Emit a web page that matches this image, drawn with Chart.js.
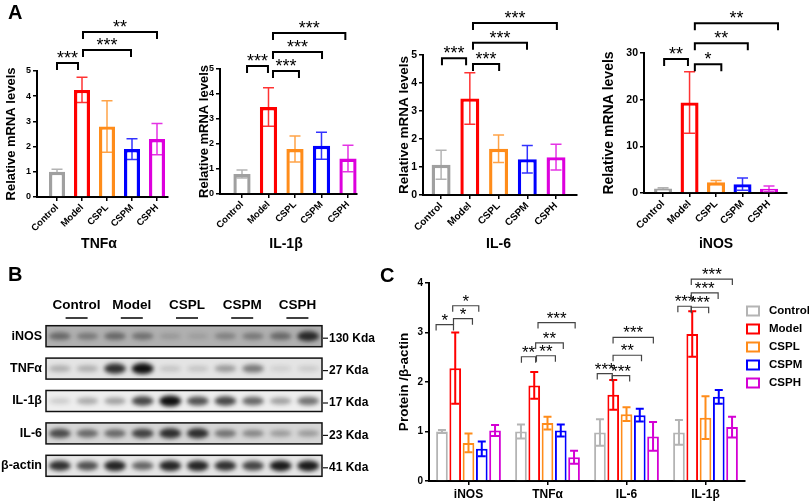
<!DOCTYPE html>
<html>
<head>
<meta charset="utf-8">
<script src="https://cdn.jsdelivr.net/npm/chart.js@4.4.1/dist/chart.umd.min.js"></script>
<style>
  body { margin: 0; background: #fff; width: 809px; height: 502px; position: relative; overflow: hidden;
         font-family: "Liberation Sans", Arial, sans-serif; }
  .box { position: absolute; }
  .panel { position: absolute; font-weight: bold; font-size: 20px; line-height: 20px; }
</style>
</head>
<body>
<div class="box" style="left:0;top:240px;width:400px;height:262px"><canvas id="blot"></canvas></div>
<div class="box" style="left:396px;top:240px;width:413px;height:262px"><canvas id="protein"></canvas></div>
<div class="box" style="left:0;top:0;width:195px;height:252px"><canvas id="tnf"></canvas></div>
<div class="box" style="left:195px;top:0;width:200px;height:252px"><canvas id="il1b"></canvas></div>
<div class="box" style="left:395px;top:0;width:202px;height:252px"><canvas id="il6"></canvas></div>
<div class="box" style="left:597px;top:0;width:212px;height:252px"><canvas id="inos"></canvas></div>
<div class="panel" style="left:8px;top:2px">A</div>
<div class="panel" style="left:8px;top:264px">B</div>
<div class="panel" style="left:380px;top:265px">C</div>
<script>
// ---- data ----
const groups = ['Control', 'Model', 'CSPL', 'CSPM', 'CSPH'];
const colors = ['#a0a0a0', '#ff0000', '#ff8c1a', '#0000ff', '#dd00dd'];

// panel A: relative mRNA levels (mean, SD)
const tnfVals = [1.0, 4.25, 2.8, 1.9, 2.3];
const tnfErrs = [0.1, 0.5, 1.02, 0.41, 0.62];
const il1bVals = [0.8, 3.48, 1.8, 1.93, 1.42];
const il1bErrs = [0.16, 0.77, 0.52, 0.54, 0.53];
const il6Vals = [1.08, 3.45, 1.65, 1.28, 1.35];
const il6Errs = [0.52, 0.92, 0.49, 0.49, 0.46];
const inosVals = [0.95, 19.4, 2.3, 1.9, 0.9];
const inosErrs = [0.2, 6.6, 0.4, 1.3, 0.6];

// significance brackets: [from, to, height, label]
const tnfSig = [[0, 0.84, 5.32, '***'], [1.04, 2.96, 5.83, '***'], [1.04, 4.0, 6.55, '**']];
const il1bSig = [[0.19, 0.98, 5.12, '***'], [1.17, 2.15, 4.92, '***'], [1.17, 3.02, 5.68, '***'], [1.17, 3.9, 6.44, '***']];
const il6Sig = [[0.03, 0.87, 4.88, '***'], [1.11, 2.02, 4.68, '***'], [1.11, 2.99, 5.44, '***'], [1.11, 4.03, 6.14, '***']];
const inosSig = [[0.04, 0.94, 28.7, '**'], [1.2, 2.2, 27.6, '*'], [1.2, 3.2, 32.1, '**'], [1.2, 4.34, 36.4, '**']];

// panel C: protein / beta-actin
const proteins = ['iNOS', 'TNFα', 'IL-6', 'IL-1β'];
const cControl = [1.0, 1.0, 0.98, 0.98];
const cControlErr = [0.03, 0.14, 0.27, 0.25];
const cModel = [2.28, 1.93, 1.74, 2.97];
const cModelErr = [0.72, 0.27, 0.3, 0.46];
const cCSPL = [0.77, 1.17, 1.35, 1.28];
const cCSPLErr = [0.19, 0.13, 0.14, 0.43];
const cCSPM = [0.65, 1.02, 1.33, 1.7];
const cCSPMErr = [0.15, 0.12, 0.13, 0.14];
const cCSPH = [1.02, 0.48, 0.9, 1.09];
const cCSPHErr = [0.11, 0.13, 0.29, 0.21];
const proteinSig = [
  [-0.41, -0.19, 3.16, '*'], [-0.19, 0.05, 3.28, '*'], [-0.2, 0.13, 3.54, '*'],
  [0.67, 0.85, 2.51, '**'], [0.86, 1.1, 2.53, '**'], [0.85, 1.2, 2.79, '**'], [0.88, 1.35, 3.2, '***'],
  [1.63, 1.82, 2.17, '***'], [1.82, 2.04, 2.13, '***'], [1.83, 2.19, 2.54, '**'], [1.83, 2.34, 2.9, '***'],
  [2.65, 2.82, 3.53, '***'], [2.82, 3.04, 3.51, '***'], [2.82, 3.16, 3.8, '***'], [2.82, 3.34, 4.08, '***']
];

// panel B: western blot band darkness per lane (2 lanes per group)
const blotRows = ['iNOS', 'TNFα', 'IL-1β', 'IL-6', 'β-actin'];
const blotKda = ['130 Kda', '27 Kda', '17 Kda', '23 Kda', '41 Kda'];
const blotINOS = [0.45, 0.35, 0.45, 0.4, 0.15, 0.12, 0.3, 0.35, 0.45, 0.85];
const blotTNF = [0.25, 0.25, 0.85, 1.0, 0.15, 0.15, 0.35, 0.5, 0.1, 0.12];
const blotIL1B = [0.15, 0.3, 0.35, 0.75, 1.0, 0.7, 0.75, 0.6, 0.35, 0.55];
const blotIL6 = [0.7, 0.55, 0.55, 0.75, 0.85, 0.85, 0.5, 0.4, 0.3, 0.3];
const blotActin = [0.85, 0.7, 0.9, 0.6, 0.9, 0.9, 0.85, 0.75, 0.95, 0.95];

Chart.defaults.font.family = '"Liberation Sans", Arial, sans-serif';
Chart.defaults.color = '#000';

const pick = (v, i) => (Array.isArray(v) ? v[i] : v);

// error bars, significance brackets and extra titles
const marks = {
  id: 'marks',
  afterDatasetsDraw(chart, args, o) {
    const { ctx } = chart;
    const x = chart.scales.x, y = chart.scales.y;
    ctx.save();
    chart.data.datasets.forEach((ds, di) => {
      chart.getDatasetMeta(di).data.forEach((bar, i) => {
        const d = ds.data[i];
        const v = typeof d === 'object' ? d.y : d;
        const e = ds.errors[i];
        const yt = y.getPixelForValue(v + e), yb = y.getPixelForValue(v - e);
        ctx.strokeStyle = pick(ds.borderColor, i);
        ctx.globalAlpha = o.errAlpha;
        ctx.lineWidth = o.errWidth;
        ctx.beginPath();
        ctx.moveTo(bar.x, yt); ctx.lineTo(bar.x, yb);
        ctx.moveTo(bar.x - o.cap, yt); ctx.lineTo(bar.x + o.cap, yt);
        ctx.moveTo(bar.x - o.cap, yb); ctx.lineTo(bar.x + o.cap, yb);
        ctx.stroke();
      });
    });
    ctx.globalAlpha = 1;
    ctx.strokeStyle = o.bracketColor;
    ctx.lineWidth = o.bracketWidth;
    ctx.fillStyle = '#000';
    ctx.font = o.starFont;
    ctx.textAlign = 'center';
    ctx.textBaseline = 'alphabetic';
    o.brackets.forEach(([a, b, v, s]) => {
      const x1 = x.getPixelForValue(a), x2 = x.getPixelForValue(b), yy = y.getPixelForValue(v);
      ctx.beginPath();
      ctx.moveTo(x1, yy + o.drop); ctx.lineTo(x1, yy); ctx.lineTo(x2, yy); ctx.lineTo(x2, yy + o.drop);
      ctx.stroke();
      ctx.fillText(s, (x1 + x2) / 2, yy + 1);
    });
    if (o.title) {
      ctx.font = 'bold 14px "Liberation Sans", Arial, sans-serif';
      ctx.textBaseline = 'middle';
      ctx.fillText(o.title, x.getPixelForValue(o.titleX), o.titleY);
    }
    if (o.legend) {
      ctx.font = 'bold 11.5px "Liberation Sans", Arial, sans-serif';
      ctx.textAlign = 'left';
      ctx.textBaseline = 'middle';
      ctx.lineWidth = 2;
      chart.data.datasets.forEach((ds, k) => {
        const cy = o.legend.y + k * o.legend.step;
        ctx.strokeStyle = ds.borderColor;
        ctx.strokeRect(o.legend.x, cy - 4.5, 12, 9);
        ctx.fillText(ds.label, o.legend.x + 22, cy);
      });
    }
    ctx.restore();
  }
};

function mrnaChart(id, vals, errs, sig, title, s) {
  return new Chart(document.getElementById(id), {
    type: 'bar',
    data: {
      datasets: [{
        data: vals.map((v, i) => ({ x: i, y: v })),
        errors: errs,
        backgroundColor: '#fff',
        borderColor: colors,
        borderWidth: 3.4,
        barPercentage: s.bp,
        categoryPercentage: 1
      }]
    },
    options: {
      responsive: true,
      maintainAspectRatio: false,
      animation: false,
      layout: { padding: { top: s.top, right: s.right, left: 0, bottom: 0 } },
      plugins: {
        legend: { display: false },
        tooltip: { enabled: false },
        marks: {
          brackets: sig, cap: 5.5, errWidth: 1.5, errAlpha: 0.8,
          bracketColor: '#000', bracketWidth: 2, drop: 7,
          starFont: '18px "Liberation Sans", Arial, sans-serif',
          title: title, titleX: s.titleX, titleY: 244
        }
      },
      scales: {
        x: {
          type: 'linear', min: s.xMin, max: s.xMax, offset: false,
          afterBuildTicks: sc => { sc.ticks = groups.map((g, i) => ({ value: i })); },
          afterFit: sc => { sc.height = s.xh; },
          ticks: {
            callback: v => groups[v], autoSkip: false, maxRotation: 45, minRotation: 45,
            color: '#000', font: { weight: 'bold', size: s.xf }, padding: 1
          },
          grid: { drawOnChartArea: false, drawTicks: true, tickLength: 4, color: '#000', lineWidth: 1.5, offset: false },
          border: { color: '#000', width: 2 }
        },
        y: {
          min: 0, max: s.yMax,
          afterFit: sc => { sc.width = s.yw; },
          ticks: { stepSize: s.yStep, color: '#000', font: { weight: 'bold', size: s.yf }, padding: 2 },
          grid: { drawOnChartArea: false, tickLength: 4, color: '#000', lineWidth: 1.5 },
          border: { color: '#000', width: 2 },
          title: {
            display: true, text: 'Relative mRNA levels', color: '#000',
            font: { weight: 'bold', size: s.tf }, padding: { top: s.tp, bottom: 0 }
          }
        }
      }
    },
    plugins: [marks]
  });
}

mrnaChart('tnf', tnfVals, tnfErrs, tnfSig, 'TNFα',
  { top: 71, right: 27, yw: 37, xh: 55, xMin: -0.8, xMax: 4.44, yMax: 5, yStep: 1, yf: 9, xf: 9.5, tf: 13, tp: 4, bp: 0.64, titleX: 1.68 });
mrnaChart('il1b', il1bVals, il1bErrs, il1bSig, 'IL-1β',
  { top: 69, right: 38, yw: 25, xh: 58, xMin: -0.83, xMax: 4.34, yMax: 5, yStep: 1, yf: 9, xf: 9.5, tf: 13, tp: 2, bp: 0.65, titleX: 1.66 });
mrnaChart('il6', il6Vals, il6Errs, il6Sig, 'IL-6',
  { top: 55, right: 20, yw: 28, xh: 57, xMin: -0.63, xMax: 4.73, yMax: 5, yStep: 1, yf: 10.5, xf: 10, tf: 13.5, tp: 1, bp: 0.66, titleX: 2 });
mrnaChart('inos', inosVals, inosErrs, inosSig, 'iNOS',
  { top: 53, right: 22, yw: 47, xh: 59, xMin: -0.72, xMax: 4.68, yMax: 30, yStep: 10, yf: 10.5, xf: 10, tf: 14, tp: 4, bp: 0.68, titleX: 2 });

// ---- panel C ----
const cSeries = [cControl, cModel, cCSPL, cCSPM, cCSPH];
const cSeriesErr = [cControlErr, cModelErr, cCSPLErr, cCSPMErr, cCSPHErr];
const cColors = ['#b4b4b4', '#ff0000', '#ff8c1a', '#0000ff', '#d400d4'];

new Chart(document.getElementById('protein'), {
  type: 'bar',
  data: {
    labels: proteins,
    datasets: groups.map((g, k) => ({
      label: g,
      data: cSeries[k],
      errors: cSeriesErr[k],
      backgroundColor: '#fff',
      borderColor: cColors[k],
      borderWidth: 2,
      barPercentage: 0.88,
      categoryPercentage: 0.84
    }))
  },
  options: {
    responsive: true,
    maintainAspectRatio: false,
    animation: false,
    layout: { padding: { top: 43, right: 64, left: 0, bottom: 0 } },
    plugins: {
      legend: { display: false },
      tooltip: { enabled: false },
      marks: {
        brackets: proteinSig, cap: 4, errWidth: 2, errAlpha: 1,
        bracketColor: '#444', bracketWidth: 1.2, drop: 6,
        starFont: '17px "Liberation Sans", Arial, sans-serif',
        legend: { x: 351, y: 71, step: 18 }
      }
    },
    scales: {
      x: {
        afterFit: sc => { sc.height = 21; },
        ticks: { color: '#000', font: { weight: 'bold', size: 12 }, padding: 2 },
        grid: { drawOnChartArea: false, drawTicks: true, tickLength: 4, color: '#000', lineWidth: 1.5, offset: false },
        border: { color: '#000', width: 2 }
      },
      y: {
        min: 0, max: 4,
        afterFit: sc => { sc.width = 33; },
        ticks: { stepSize: 1, color: '#000', font: { weight: 'bold', size: 10 }, padding: 2 },
        grid: { drawOnChartArea: false, tickLength: 4, color: '#000', lineWidth: 1.5 },
        border: { color: '#000', width: 2 },
        title: {
          display: true, text: 'Protein /β-actin', color: '#000',
          font: { weight: 'bold', size: 13.5 }, padding: { top: 0, bottom: 0 }
        }
      }
    }
  },
  plugins: [marks]
});

// ---- panel B: western blot ----
const blotLevels = [blotINOS, blotTNF, blotIL1B, blotIL6, blotActin];
const blotBg = ['#b0b0b0', '#e4e4e4', '#eeeeee', '#d6d6d6', '#e6e6e6'];

const blot = {
  id: 'blot',
  afterDraw(chart, args, o) {
    const { ctx } = chart;
    const x = chart.scales.x, y = chart.scales.y;
    const left = x.getPixelForValue(0), right = x.getPixelForValue(10);
    ctx.save();
    ctx.fillStyle = '#000';
    ctx.strokeStyle = '#000';
    ctx.textBaseline = 'middle';
    ctx.textAlign = 'center';
    groups.forEach((g, i) => {
      const cx = x.getPixelForValue(2 * i + 1);
      ctx.font = g === 'Model'
        ? 'bold 13.5px "Liberation Sans Narrow", "Liberation Sans", Arial, sans-serif'
        : 'bold 13.5px "Liberation Sans", Arial, sans-serif';
      ctx.fillText(g, cx + 3, o.headerY);
      ctx.lineWidth = 1.5;
      ctx.beginPath();
      ctx.moveTo(cx - 8, o.headerY + 13); ctx.lineTo(cx + 14, o.headerY + 13);
      ctx.stroke();
    });
    blotRows.forEach((name, r) => {
      const cy = y.getPixelForValue(r + 0.5);
      const top = cy - o.rowH / 2;
      ctx.fillStyle = blotBg[r];
      ctx.fillRect(left, top, right - left, o.rowH);
      ctx.save();
      ctx.beginPath();
      ctx.rect(left, top, right - left, o.rowH);
      ctx.clip();
      ctx.filter = 'blur(2px)';
      blotLevels[r].forEach((a, i) => {
        const cx = x.getPixelForValue(i + 0.5);
        ctx.fillStyle = 'rgba(15,15,15,' + a + ')';
        ctx.beginPath();
        ctx.ellipse(cx, cy, 11, 2.5 + 3 * a, 0, 0, Math.PI * 2);
        ctx.fill();
      });
      ctx.restore();
      ctx.lineWidth = 1.5;
      ctx.strokeStyle = '#111';
      ctx.strokeRect(left, top, right - left, o.rowH);
      ctx.fillStyle = '#000';
      ctx.font = 'bold 12.5px "Liberation Sans", Arial, sans-serif';
      ctx.textAlign = 'right';
      ctx.fillText(name, left - 4, cy);
      ctx.font = 'bold 12px "Liberation Sans", Arial, sans-serif';
      ctx.textAlign = 'left';
      ctx.lineWidth = 1.2;
      ctx.beginPath();
      ctx.moveTo(right + 1, cy + 2); ctx.lineTo(right + 6, cy + 2);
      ctx.stroke();
      ctx.fillText(blotKda[r], right + 7, cy + 2);
    });
    ctx.restore();
  }
};

new Chart(document.getElementById('blot'), {
  type: 'scatter',
  data: { datasets: [] },
  options: {
    responsive: true,
    maintainAspectRatio: false,
    animation: false,
    layout: { padding: { left: 46, right: 78, top: 80, bottom: 20 } },
    plugins: { legend: { display: false }, tooltip: { enabled: false }, blot: { headerY: 65, rowH: 21 } },
    scales: {
      x: { type: 'linear', min: 0, max: 10, display: false },
      y: { type: 'linear', min: 0, max: 5, reverse: true, display: false }
    }
  },
  plugins: [blot]
});
</script>
</body>
</html>
